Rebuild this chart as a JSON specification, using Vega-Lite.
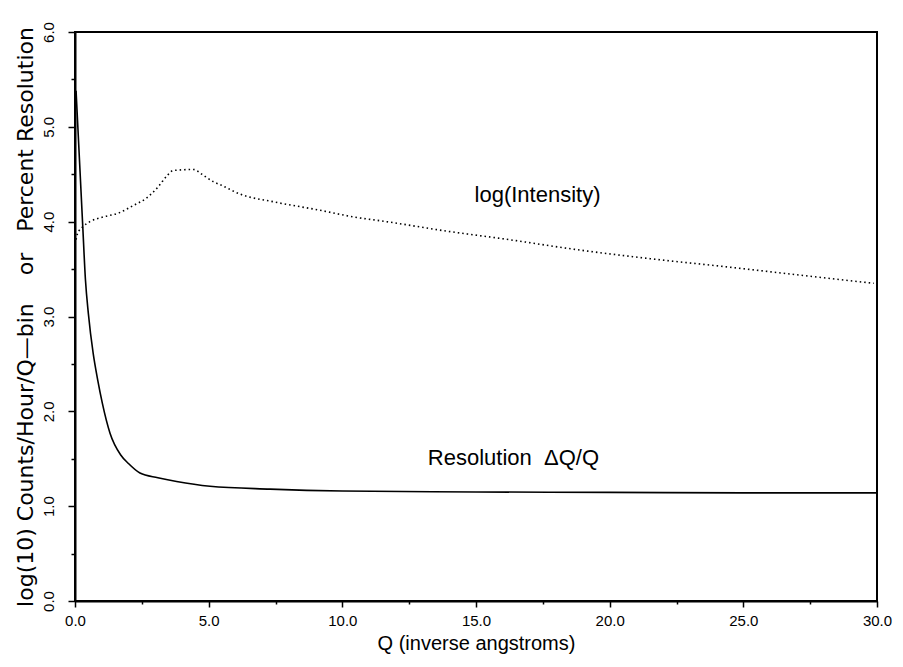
{
  "$schema": "https://vega.github.io/schema/vega-lite/v6.json",
  "autosize": {"type": "none"},
  "padding": {"left": 75, "top": 32, "right": 26, "bottom": 66},
  "width": 802,
  "height": 569,
  "background": "white",
  "config": {
    "view": {"stroke": "black", "strokeWidth": 2},
    "font": "Liberation Sans"
  },
  "datasets": {
    "res": [
      {"Q": 0.04, "V": 5.38},
      {"Q": 0.29, "V": 3.95},
      {"Q": 0.39, "V": 3.39},
      {"Q": 0.5, "V": 3.03},
      {"Q": 0.68, "V": 2.61},
      {"Q": 0.85, "V": 2.33},
      {"Q": 1.02, "V": 2.09},
      {"Q": 1.31, "V": 1.77},
      {"Q": 1.71, "V": 1.54},
      {"Q": 2.0, "V": 1.45},
      {"Q": 2.43, "V": 1.35},
      {"Q": 3.1, "V": 1.3},
      {"Q": 3.8, "V": 1.26},
      {"Q": 5.05, "V": 1.21},
      {"Q": 7.3, "V": 1.18},
      {"Q": 10.0, "V": 1.16},
      {"Q": 15.0, "V": 1.15},
      {"Q": 20.0, "V": 1.145},
      {"Q": 25.0, "V": 1.14},
      {"Q": 30.0, "V": 1.14}
    ],
    "int": [
      {"Q": 0.04, "V": 3.81},
      {"Q": 0.09, "V": 3.87},
      {"Q": 0.31, "V": 3.95},
      {"Q": 0.56, "V": 4.0},
      {"Q": 1.06, "V": 4.05},
      {"Q": 1.62, "V": 4.09},
      {"Q": 2.18, "V": 4.17},
      {"Q": 2.68, "V": 4.25},
      {"Q": 3.12, "V": 4.37},
      {"Q": 3.43, "V": 4.48},
      {"Q": 3.68, "V": 4.54},
      {"Q": 4.43, "V": 4.55},
      {"Q": 4.8, "V": 4.49},
      {"Q": 5.18, "V": 4.42},
      {"Q": 5.43, "V": 4.39},
      {"Q": 6.18, "V": 4.29},
      {"Q": 7.42, "V": 4.21},
      {"Q": 9.17, "V": 4.12},
      {"Q": 10.42, "V": 4.05},
      {"Q": 11.66, "V": 4.0},
      {"Q": 13.91, "V": 3.9},
      {"Q": 16.0, "V": 3.82},
      {"Q": 18.9, "V": 3.7},
      {"Q": 21.5, "V": 3.61},
      {"Q": 24.5, "V": 3.52},
      {"Q": 27.0, "V": 3.44},
      {"Q": 29.88, "V": 3.35}
    ],
    "notes": [
      {"Q": 17.3, "V": 4.28, "text": "log(Intensity)"},
      {"Q": 16.4, "V": 1.51, "text": "Resolution\u00a0\u00a0ΔQ/Q"}
    ]
  },
  "encoding": {
    "x": {
      "field": "Q", "type": "quantitative",
      "scale": {"domain": [0, 30], "nice": false, "zero": false},
      "axis": {
        "title": "Q (inverse angstroms)",
        "values": [0, 2.5, 5, 7.5, 10, 12.5, 15, 17.5, 20, 22.5, 25, 27.5, 30],
        "labelExpr": "datum.value % 5 === 0 ? format(datum.value, '.1f') : ''",
        "grid": false,
        "domainColor": "black", "domainWidth": 2,
        "tickColor": "black", "tickWidth": 1.5,
        "tickSize": {"condition": {"test": "datum.value % 5 === 0", "value": 6}, "value": 3},
        "labelFont": "Liberation Sans", "labelFontSize": 15, "labelColor": "black",
        "labelPadding": 6, "labelFlush": false,
        "titleFont": "Liberation Sans", "titleFontSize": 20, "titleFontWeight": "normal",
        "titleColor": "black", "titlePadding": 5
      }
    },
    "y": {
      "field": "V", "type": "quantitative",
      "scale": {"domain": [0, 6], "nice": false, "zero": false},
      "axis": {
        "title": "log(10) Counts/Hour/Q—bin\u00a0\u00a0\u00a0 or \u00a0\u00a0Percent Resolution",
        "values": [0, 0.5, 1, 1.5, 2, 2.5, 3, 3.5, 4, 4.5, 5, 5.5, 6],
        "labelExpr": "datum.value % 1 === 0 ? format(datum.value, '.1f') : ''",
        "grid": false,
        "domainColor": "black", "domainWidth": 2,
        "tickColor": "black", "tickWidth": 1.5,
        "tickSize": {"condition": {"test": "datum.value % 1 === 0", "value": 7}, "value": 4},
        "labelAngle": -90, "labelAlign": "center", "labelBaseline": "bottom",
        "labelFont": "Liberation Sans", "labelFontSize": 15, "labelColor": "black",
        "labelPadding": 12, "labelFlush": false,
        "titleFont": "DejaVu Sans", "titleFontSize": 22, "titleFontWeight": "normal",
        "titleColor": "black", "titlePadding": 4
      }
    }
  },
  "layer": [
    {
      "data": {"name": "res"},
      "mark": {"type": "line", "color": "black", "strokeWidth": 1.6, "interpolate": "monotone"}
    },
    {
      "data": {"name": "int"},
      "mark": {"type": "line", "color": "black", "strokeWidth": 1.6, "strokeDash": [1.5, 3], "interpolate": "monotone"}
    },
    {
      "data": {"name": "notes"},
      "mark": {"type": "text", "font": "Liberation Sans", "fontSize": 22, "color": "black", "align": "center", "baseline": "middle"},
      "encoding": {"text": {"field": "text"}}
    }
  ]
}
